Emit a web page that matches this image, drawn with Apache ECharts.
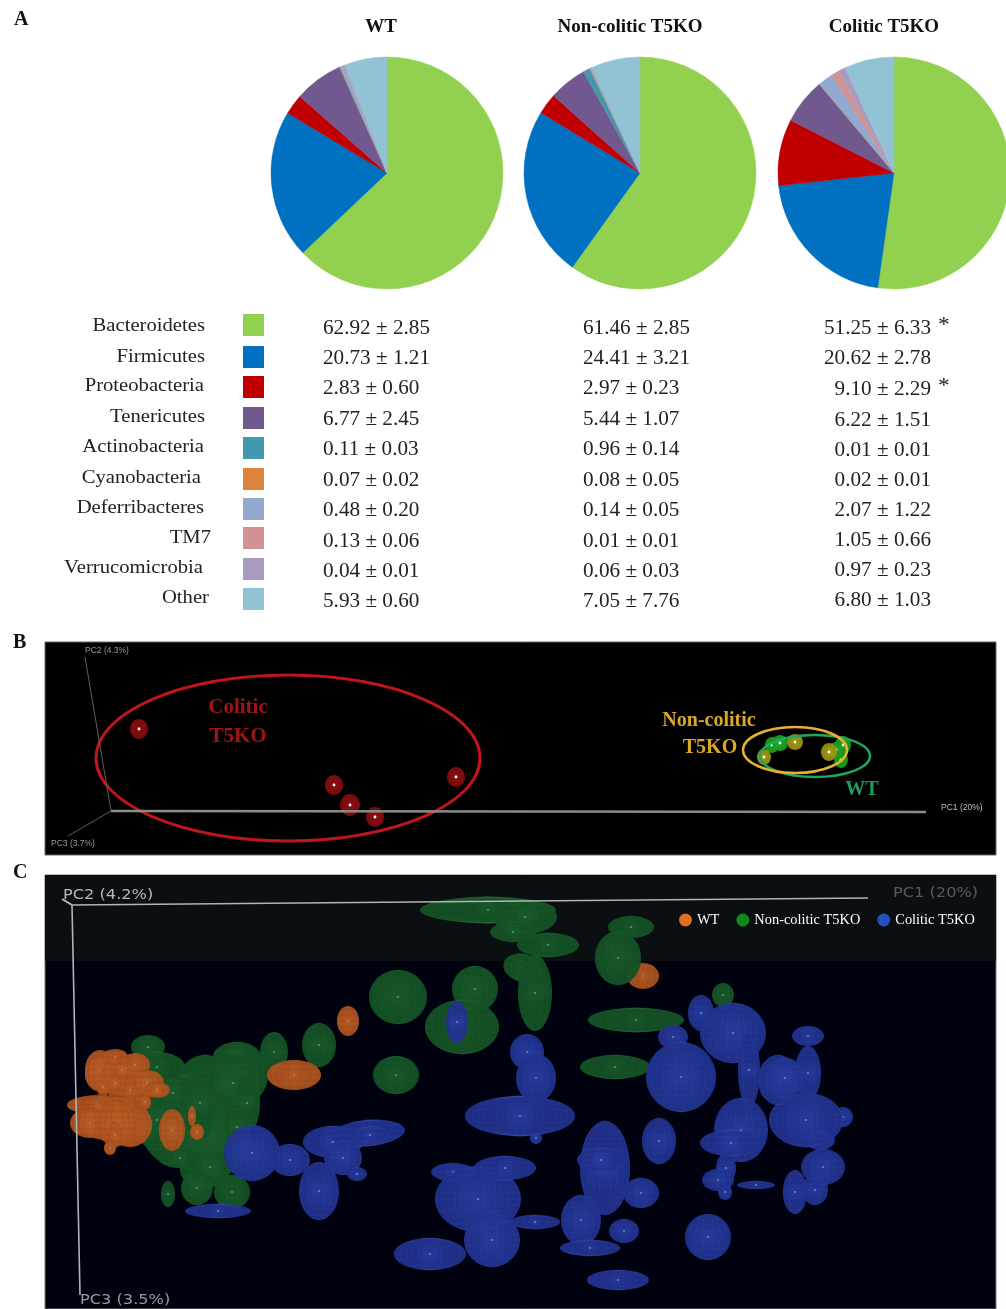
<!DOCTYPE html>
<html>
<head>
<meta charset="utf-8">
<style>
html,body{margin:0;padding:0;background:#fff;overflow:hidden;}
#main{width:1006px;height:1309px;}
</style>
<script src="https://cdn.jsdelivr.net/npm/echarts@6/dist/echarts.min.js"></script>
</head>
<body>
<div id="main"></div>
<script>
// panel A
var phyla=['Bacteroidetes','Firmicutes','Proteobacteria','Tenericutes','Actinobacteria','Cyanobacteria','Deferribacteres','TM7','Verrucomicrobia','Other'];
var phylaColors=['#92d14f','#0070c0','#c00000','#71588f','#4198af','#db843d','#93a9cf','#d19392','#a99bbd','#91c3d5'];
var groupNames=['WT','Non-colitic T5KO','Colitic T5KO'];
var groupColors=['#e0701f','#0f8a1c','#2450b8'];
var wtMean=[62.92,20.73,2.83,6.77,0.11,0.07,0.48,0.13,0.04,5.93];
var wtErr=[2.85,1.21,0.60,2.45,0.03,0.02,0.20,0.06,0.01,0.60];
var nonMean=[61.46,24.41,2.97,5.44,0.96,0.08,0.14,0.01,0.06,7.05];
var nonErr=[2.85,3.21,0.23,1.07,0.14,0.05,0.05,0.01,0.03,7.76];
var colMean=[51.25,20.62,9.10,6.22,0.01,0.02,2.07,1.05,0.97,6.80];
var colErr=[6.33,2.78,2.29,1.51,0.01,0.01,1.22,0.66,0.23,1.03];
var colStars=[1,0,1,0,0,0,0,0,0,0];

// panel B: [pc1, pc2, rx, ry, angle]
var bColitic=[[94,87,9,10,0],[289,143,9,10,0],[305,163,10,11,0],[330,175,9,10,0],[411,135,9,10,0]];
var bWt=[[727,103,7,8,0],[735,101,8,8,0],[798,103,8,9,0],[796,118,7,8,0],[791,108,7,8,0]];
var bNon=[[719,115,7,8,0],[750,100,8,8,0],[784,110,8,9,0]];
var bRingRed=[[243,116,192,83,0]];
var bRingYellow=[[750,108,52,23,0]];
var bRingGreen=[[770,114,55,21,0]];
var bAxisPc1=[[66,169],[881,170]];
var bAxisPc2=[[40,15],[66,169]];
var bAxisPc3=[[66,169],[23,194]];

// panel C: [pc1, pc3, rx, ry, angle]
var cWtBack=[[598,101,16,13,0]];
var cNon=[
	[443,35,68,13,0],[480,42,32,17,0],[468,57,23,10,0],[503,70,31,12,0],[586,52,23,11,0],[573,83,23,27,0],
	[478,93,20,14,15],[490,118,17,38,0],[591,145,48,12,0],[570,192,35,12,0],[678,120,11,12,0],
	[353,122,29,27,0],[430,114,23,23,0],[417,152,37,27,0],[351,200,23,19,0],[229,177,14,20,0],[274,170,17,22,0],
	[160,215,30,35,0],[130,250,35,40,0],[195,200,28,30,0],[175,265,30,35,0],[160,295,25,18,0],[140,225,30,25,0],
	[103,172,17,12,0],[112,192,28,15,0],[192,182,24,15,0],[188,208,27,30,0],[202,228,13,30,0],
	[162,258,37,43,0],[112,245,23,30,0],[128,218,17,13,0],[155,228,15,38,0],[192,252,13,23,0],
	[135,283,22,10,0],[165,292,17,15,0],[152,313,16,17,0],[187,317,18,17,0],[123,319,7,13,0]
];
var cWt=[
	[60,200,20,18,0],[85,215,22,18,0],[60,245,25,20,0],[85,250,22,22,0],[90,190,15,12,0],
	[55,195,15,20,0],[70,182,13,8,0],[77,195,10,8,0],[58,212,5,20,0],[70,208,7,8,0],
	[102,208,17,13,0],[112,215,13,8,0],[55,230,33,10,0],[72,228,18,7,0],
	[45,248,20,15,0],[72,248,22,23,0],[70,260,7,13,0],[65,273,6,7,0],[100,227,6,8,0],
	[127,255,13,21,0],[147,241,4,10,0],[152,257,7,8,0],[303,146,11,15,0],[249,200,27,15,0]
];
var cColitic=[
	[207,278,28,28,0],[245,285,20,16,0],[288,267,30,16,0],[323,258,37,13,-5],[325,260,20,8,-5],[298,283,19,17,0],
	[312,299,10,7,0],[274,316,20,29,0],[173,336,33,7,0],[412,147,11,21,0],[408,297,22,9,0],
	[433,324,43,33,0],[460,293,31,12,0],[447,365,28,27,0],[385,379,36,16,0],
	[491,263,6,6,0],[475,241,55,20,0],[482,177,17,18,0],[491,203,20,24,0],
	[560,293,25,47,0],[556,285,24,12,0],[596,318,18,15,0],[536,345,20,25,0],[490,347,25,7,0],[545,373,30,8,0],
	[579,356,15,12,0],[573,405,31,10,0],[614,266,17,23,0],[663,362,23,23,0],
	[628,162,15,12,0],[656,138,13,18,0],[636,202,35,35,0],[688,158,33,30,0],[704,195,11,37,0],
	[696,255,27,32,0],[686,268,31,13,0],[681,293,10,15,0],[673,305,16,11,0],[680,317,7,8,0],[711,310,19,4,0],
	[750,317,12,22,0],[770,315,13,15,0],[775,265,15,10,0],[778,292,22,18,0],[798,242,10,10,0],[761,245,37,27,0],
	[763,198,13,27,0],[733,205,20,25,0],[740,203,20,20,0],[763,161,16,10,0]
];
var cAxisTop=[[823,23],[27,30],[35,420]];
var cAxisTick=[[17,24],[27,30]];

// where the table rows sit on the page
var labelRight=[205,205,204,205,204,201,204,211,203,209];
var labelY=[326,357,386,417,447,478,508,538,568,598];
var swatchY=[325,357,387,418,448,479,509,538,569,599];
var col1Y=[329,359,389,420,450,481,511,542,572,602];
var col3Y=[329,359,390,421,451,481,511,541,571,601];

var SERIF='"Liberation Serif"';
var elements=[];
function addText(x,y,str,o){
	o=o||{};
	elements.push({
		type:'text',x:x,y:y,z:100,scaleX:o.scaleX||1,
		style:{
			text:str,fill:o.color||'#222',
			fontFamily:o.family||SERIF,fontSize:o.size||20,fontWeight:o.weight||'normal',
			align:o.align||'left',verticalAlign:'middle'
		}
	});
}
function pm(m,e,i){
	return m[i].toFixed(2)+' ± '+e[i].toFixed(2);
}

addText(14,20,'A',{size:20,weight:'bold',color:'#111'});
addText(13,643,'B',{size:20,weight:'bold',color:'#111'});
addText(13,873,'C',{size:20,weight:'bold',color:'#111'});
addText(381,27,groupNames[0],{size:19,weight:'bold',align:'center',color:'#111'});
addText(630,27,groupNames[1],{size:19,weight:'bold',align:'center',color:'#111'});
addText(884,27,groupNames[2],{size:19,weight:'bold',align:'center',color:'#111'});

for(var i=0;i<phyla.length;i++){
	addText(labelRight[i],labelY[i],phyla[i],{align:'right',size:19.5,scaleX:1.06});
	elements.push({type:'rect',z:100,shape:{x:243,y:swatchY[i]-11,width:21,height:22},style:{fill:phylaColors[i]}});
	addText(323,col1Y[i],pm(wtMean,wtErr,i),{scaleX:1.06});
	addText(583,col1Y[i],pm(nonMean,nonErr,i),{scaleX:1.06});
	addText(931,col3Y[i],pm(colMean,colErr,i),{align:'right',scaleX:1.06});
	if(colStars[i]){
		addText(938,col3Y[i]-3,'*',{size:20,scaleX:1.16});
	}
}

// panel B text
addText(238,708,'Colitic',{size:21,weight:'bold',color:'#a01418',align:'center'});
addText(238,737,'T5KO',{size:21,weight:'bold',color:'#a01418',align:'center'});
addText(709,721,'Non-colitic',{size:20,weight:'bold',color:'#dca825',align:'center'});
addText(710,748,'T5KO',{size:20,weight:'bold',color:'#dca825',align:'center'});
addText(862,790,'WT',{size:20,weight:'bold',color:'#1f9e5f',align:'center'});
var SANS='"Liberation Sans"';
addText(85,651,'PC2 (4.3%)',{family:SANS,size:8.5,color:'#9a9a9a'});
addText(941,808,'PC1 (20%)',{family:SANS,size:8.5,color:'#c0c0c0'});
addText(51,844,'PC3 (3.7%)',{family:SANS,size:8.5,color:'#9a9a9a'});

// panel C text
var WIDE='"DejaVu Sans"';
addText(63,895,'PC2 (4.2%)',{family:WIDE,size:13.5,color:'#b8b8b8',scaleX:1.2});
addText(893,893,'PC1 (20%)',{family:WIDE,size:13.5,color:'#5a5a5a',scaleX:1.2});
addText(80,1300,'PC3 (3.5%)',{family:WIDE,size:13.5,color:'#9a9a9a',scaleX:1.2});

// shaded ellipsoid with a wire mesh, sized on the axes
function ellipsoid(inner,outer,meshColor,dotColor,dotSize){
	return function(params,api){
		var c=api.coord([api.value(0),api.value(1)]);
		var s=api.size([api.value(2),api.value(3)]);
		var rx=s[0],ry=s[1];
		var kids=[{
			type:'ellipse',shape:{cx:0,cy:0,rx:rx,ry:ry},
			style:{
				opacity:0.95,
				fill:{type:'radial',x:0.5,y:0.5,r:0.5,colorStops:[{offset:0,color:inner},{offset:1,color:outer}]}
			}
		}];
		if(meshColor){
			var step=6,n=Math.floor(ry/step),t,hw;
			for(var k=-n;k<=n;k++){
				t=k*step/ry;
				hw=rx*Math.sqrt(Math.max(0,1-t*t));
				kids.push({type:'line',shape:{x1:-hw,y1:k*step,x2:hw,y2:k*step},style:{stroke:meshColor,lineWidth:0.6}});
			}
			var m=Math.floor(rx/step);
			for(var j=1;j<=m;j++){
				kids.push({type:'ellipse',shape:{cx:0,cy:0,rx:j*step,ry:ry},style:{fill:'none',stroke:meshColor,lineWidth:0.6}});
			}
		}
		kids.push({type:'circle',shape:{cx:0,cy:0,r:dotSize||0.8},style:{fill:dotColor}});
		return {type:'group',x:c[0],y:c[1],rotation:-(api.value(4)||0)*Math.PI/180,children:kids};
	};
}
function ring(color,width){
	return function(params,api){
		var c=api.coord([api.value(0),api.value(1)]);
		var s=api.size([api.value(2),api.value(3)]);
		return {type:'ellipse',shape:{cx:c[0],cy:c[1],rx:s[0],ry:s[1]},style:{fill:'none',stroke:color,lineWidth:width}};
	};
}
function customSeries(name,idx,data,render,color){
	return {
		name:name,type:'custom',xAxisIndex:idx,yAxisIndex:idx,data:data,renderItem:render,
		encode:{x:0,y:1},clip:true,silent:true,itemStyle:{color:color}
	};
}
function axisLine(idx,data,color,width){
	return {
		type:'line',xAxisIndex:idx,yAxisIndex:idx,data:data,symbol:'none',silent:true,
		lineStyle:{color:color,width:width}
	};
}
function pieSeries(name,values,cx){
	return {
		name:name,type:'pie',center:[cx,173],radius:[0,116],startAngle:90,silent:true,
		label:{show:false},labelLine:{show:false},
		data:values.map(function(v,i){
			return {name:phyla[i],value:v,itemStyle:{color:phylaColors[i],borderColor:phylaColors[i],borderWidth:0.5}};
		})
	};
}

var cTopBand=axisLine(1,cAxisTick,'#bbbbbb',2);
cTopBand.markArea={silent:true,itemStyle:{color:'#0b0f12'},data:[[{xAxis:0,yAxis:0},{xAxis:951,yAxis:86}]]};

var greenMesh='rgba(70,140,80,0.14)',blueMesh='rgba(140,150,220,0.10)',orangeMesh='rgba(80,35,10,0.18)';

var option={
	animation:false,
	backgroundColor:'#fff',
	graphic:{elements:elements},
	legend:{
		data:groupNames.map(function(n,i){
			return {name:n,itemStyle:{color:groupColors[i]}};
		}),
		left:679,top:913,padding:0,orient:'horizontal',icon:'circle',
		itemWidth:13,itemHeight:13,itemGap:17,selectedMode:false,
		textStyle:{color:'#fff',fontFamily:SERIF,fontSize:14.4}
	},
	grid:[
		{left:45,top:642,width:951,height:213,show:true,backgroundColor:'#000',borderWidth:1,borderColor:'#666'},
		{left:45,top:875,width:951,height:434,show:true,backgroundColor:'#000210',borderWidth:1,borderColor:'#777'}
	],
	xAxis:[
		{type:'value',gridIndex:0,min:0,max:951,show:false},
		{type:'value',gridIndex:1,min:0,max:951,show:false}
	],
	yAxis:[
		{type:'value',gridIndex:0,min:0,max:213,inverse:true,show:false},
		{type:'value',gridIndex:1,min:0,max:434,inverse:true,show:false}
	],
	series:[
		pieSeries(groupNames[0],wtMean,387),
		pieSeries(groupNames[1],nonMean,640),
		pieSeries(groupNames[2],colMean,894),

		axisLine(0,bAxisPc1,'#8c8c8c',2.5),
		axisLine(0,bAxisPc2,'#5f5f5f',1),
		axisLine(0,bAxisPc3,'#5f5f5f',1),
		customSeries('bColitic',0,bColitic,ellipsoid('#960f12','#7c0c0e',null,'#ffffff',1.4),'#a01418'),
		customSeries('bWt',0,bWt,ellipsoid('#22aa24','#179a1c',null,'#ffffff',1.4),'#1f9e1f'),
		customSeries('bNon',0,bNon,ellipsoid('#a89e18','#968c12',null,'#ffffff',1.4),'#a89a10'),
		customSeries('bRingGreen',0,bRingGreen,ring('#1fa860',2.5),'#1fa860'),
		customSeries('bRingYellow',0,bRingYellow,ring('#e8b030',2.5),'#e8b030'),
		customSeries('bRingRed',0,bRingRed,ring('#c0151c',3),'#c0151c'),

		cTopBand,
		axisLine(1,cAxisTop,'#b4b4b4',1.6),
		customSeries(groupNames[0],1,cWtBack,ellipsoid('#b85a24','#ac521f',orangeMesh,'#b0a090'),groupColors[0]),
		customSeries(groupNames[1],1,cNon,ellipsoid('#195a2a','#135024',greenMesh,'#9cb89c'),groupColors[1]),
		customSeries(groupNames[2],1,cColitic,ellipsoid('#263ca2','#1f308c',blueMesh,'#a8b4d8'),groupColors[2]),
		customSeries(groupNames[0],1,cWt,ellipsoid('#bc5c26','#b05420',orangeMesh,'#b0a090'),groupColors[0])
	]
};

var myChart=echarts.init(document.getElementById('main'),null,{renderer:'canvas'});
myChart.setOption(option);
</script>
</body>
</html>
